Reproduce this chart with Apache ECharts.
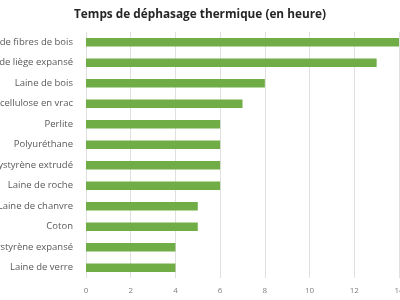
<!DOCTYPE html>
<html><head><meta charset="utf-8">
<script src="https://cdn.jsdelivr.net/npm/echarts@6/dist/echarts.min.js"></script>
<style>html,body{margin:0;padding:0;background:#fff}#c{width:400px;height:300px}</style>
</head><body><div id="c"></div>
<script>
const categories = ["Panneau de fibres de bois","Panneau de liège expansé","Laine de bois","Ouate de cellulose en vrac","Perlite","Polyuréthane","Polystyrène extrudé","Laine de roche","Laine de chanvre","Coton","Polystyrène expansé","Laine de verre"];
const values = [14,13,8,7,6,6,6,6,5,5,4,4];
const titleText = "Temps de déphasage thermique (en heure)";
const chart = echarts.init(document.getElementById('c'));
chart.setOption({
  animation:false,
  title:{text:titleText,left:'center',top:4,textStyle:{fontFamily:'Open Sans',fontSize:11.8,fontWeight:'bold',color:'#262626'}},
  grid:{left:86,right:1,top:32,bottom:22,containLabel:false,outerBoundsMode:'none'},
  xAxis:{type:'value',min:0,max:14,interval:2,
    axisLine:{show:false},axisTick:{show:false},
    axisLabel:{fontFamily:'Open Sans',fontSize:8,color:'#7f7f7f',margin:9},
    splitLine:{lineStyle:{color:'#e0e0e0',width:1}}},
  yAxis:{type:'category',data:categories,inverse:true,
    axisLine:{show:false},axisTick:{show:false},
    axisLabel:{fontFamily:'Open Sans',fontSize:9.5,color:'#595959',margin:13}},
  series:[{type:'bar',data:values,barWidth:8.5,itemStyle:{color:'#70AD47'}}]
});
</script></body></html>
